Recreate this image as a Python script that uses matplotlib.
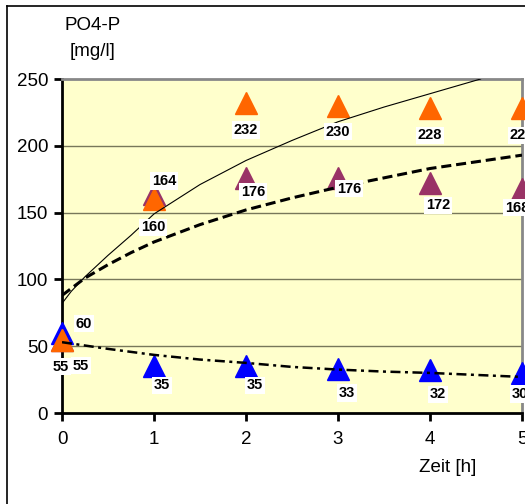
import matplotlib.pyplot as plt
from matplotlib.lines import Line2D

plt.rcParams['font.family'] = ['Liberation Sans', 'DejaVu Sans']

# measured values
zeit = [0, 1, 2, 3, 4, 5]
orange_vals = [55, 160, 232, 230, 228, 228]
purple_vals = [55, 164, 176, 176, 172, 168]
blue_vals = [60, 35, 35, 33, 32, 30]

# curves
thin_x = [0, 0.1, 0.25, 0.5, 0.75, 1, 1.5, 2, 2.5, 3, 3.5, 4, 4.55]
thin_y = [82, 91, 102, 118, 133, 149, 171, 189, 204, 218, 229, 239, 250]
dash_x = [0, 0.25, 0.5, 0.75, 1, 1.5, 2, 2.5, 3, 3.5, 4, 4.5, 5]
dash_y = [88, 101, 111, 120, 128, 141, 152, 161, 169, 176, 183, 188, 193]
dashdot_x = [0, 0.5, 1, 1.5, 2, 2.5, 3, 3.5, 4, 4.5, 5]
dashdot_y = [53, 48, 43.5, 40, 37.5, 34.5, 32.5, 31, 30, 28.5, 27]

y_ticks = [0, 50, 100, 150, 200, 250]

# label offsets in pixels (dx, dy), dy up
orange_off = [(-1, -27), (-1, -28), (0, -27), (0, -26), (0, -27), (0, -27)]
purple_off = [(19, -26), (10, 13), (7, -14), (11, -11), (8, -22), (-5, -19)]
blue_off = [(22, 9), (8, -19), (9, -19), (9, -24), (8, -24), (-2, -21)]

fig = plt.figure(figsize=(5.25, 5.04), dpi=100)
ax = fig.add_axes([62/525, 1-413/504, 460/525, 334/504])
ax.set_facecolor('#FFFFCC')

ax.set_xlim(0, 5)
ax.set_ylim(0, 250)
ax.set_yticks(y_ticks)
ax.set_xticks(zeit)
for v in y_ticks[1:-1]:
    ax.axhline(v, color='#77775a', lw=1, zorder=1)

ax.plot(zeit, blue_vals, ls='none', marker='^', ms=15.5, color='#0000FF', clip_on=False, zorder=3)
ax.plot(zeit, purple_vals, ls='none', marker='^', ms=15.5, color='#993366', clip_on=False, zorder=3)
ax.plot(zeit, orange_vals, ls='none', marker='^', ms=15.5, color='#FF6600', clip_on=False, zorder=3)

ax.plot(thin_x, thin_y, color='black', lw=0.8, zorder=4)
ax.plot(dash_x, dash_y, color='black', lw=2.2, ls=(0, (3.3, 1.6)), zorder=4)
ax.plot(dashdot_x, dashdot_y, color='black', lw=1.8, ls=(0, (4.0, 1.8, 1.2, 1.8)), zorder=4)

box = dict(facecolor='white', edgecolor='none', pad=1.2)
for vals, offs in [(orange_vals, orange_off), (purple_vals, purple_off), (blue_vals, blue_off)]:
    for x, v, (dx, dy) in zip(zeit, vals, offs):
        ax.annotate(str(v), (x, v), xytext=(dx, dy), textcoords='offset pixels',
                    ha='center', va='center', fontsize=10.5, fontweight='bold',
                    bbox=box, annotation_clip=False, zorder=5)

for s in ['left', 'bottom']:
    ax.spines[s].set_color('black')
    ax.spines[s].set_linewidth(2)
for s in ['top', 'right']:
    ax.spines[s].set_color('#888888')
    ax.spines[s].set_linewidth(2)

ax.tick_params(axis='both', length=6, width=2, labelsize=13.5, pad=4, color='black')
ax.tick_params(axis='x', pad=7)

fig.text(93/525, 1-26/504, 'PO4-P', ha='center', va='center', fontsize=13.5)
fig.text(93/525, 1-52/504, '[mg/l]', ha='center', va='center', fontsize=13.5)
fig.text(448/525, 1-468/504, 'Zeit [h]', ha='center', va='center', fontsize=13.5)

# outer chart frame (partly cut off)
fig.add_artist(Line2D([7/525, 1.0], [1-6/504, 1-6/504], transform=fig.transFigure, color='black', lw=1.2))
fig.add_artist(Line2D([7/525, 7/525], [0, 1-6/504], transform=fig.transFigure, color='black', lw=1.2))

fig.savefig('out.png', dpi=100)
